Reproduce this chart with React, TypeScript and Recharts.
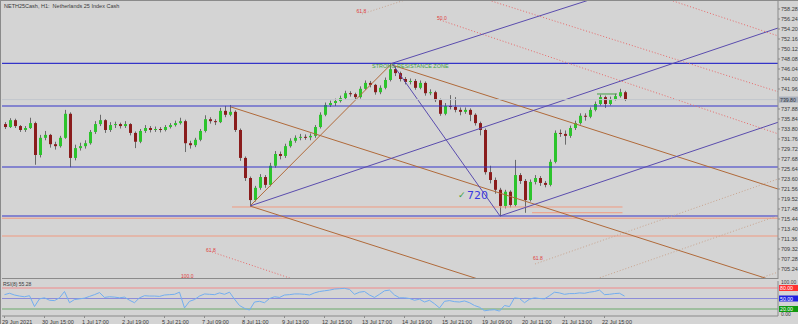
import {
  Bar,
  ComposedChart,
  Line,
  LineChart,
  ReferenceDot,
  ReferenceLine,
  XAxis,
  YAxis,
} from 'recharts'

const TITLE = 'NETH25Cash, H1:  Netherlands 25 Index Cash'
const RSI_TITLE = 'RSI(8) 55.28'

// hourly bars, sampled two hours per candle
const FIRST_OPEN = 734.8
const closes = [
  734.2, 735.6, 734.4, 733.6, 734.0, 735.0, 728.5, 732.0, 732.6, 730.7,
  730.3, 732.0, 736.9, 727.9, 729.9, 730.3, 730.9, 733.2, 734.8, 735.6,
  733.6, 734.6, 734.8, 734.4, 734.8, 733.0, 731.2, 733.4, 734.0, 733.6,
  733.8, 733.6, 734.2, 734.6, 735.0, 735.4, 730.9, 730.5, 731.6, 733.4,
  735.8, 735.4, 735.2, 737.5, 736.7, 737.3, 733.6, 727.9, 723.8, 719.3,
  721.8, 724.0, 722.4, 726.3, 728.7, 728.3, 730.3, 731.4, 732.0, 732.2,
  732.1, 732.4, 734.2, 736.7, 738.7, 739.1, 739.5, 740.1, 741.1, 740.9,
  740.3, 742.0, 743.2, 742.8, 741.3, 742.2, 743.8, 746.0, 745.2, 744.0,
  743.4, 743.6, 742.2, 743.2, 741.1, 741.3, 739.7, 736.9, 738.5, 738.3,
  737.7, 737.3, 737.7, 736.7, 735.0, 733.6, 725.0, 723.4, 721.4, 718.1,
  721.0, 718.3, 724.4, 723.2, 719.3, 723.0, 723.8, 722.8, 722.4, 727.1,
  733.0, 732.8, 732.4, 734.0, 735.0, 736.5, 736.3, 737.7, 738.9, 740.3,
  738.9, 739.9, 740.5, 741.3, 739.8,
]
const highs = [
  735.2, 736.0, 735.9, 734.6, 734.4, 736.1, 735.3, 732.6, 733.4, 732.8,
  731.2, 732.4, 737.7, 737.2, 730.6, 731.0, 731.5, 733.6, 735.4, 736.7,
  735.8, 735.2, 735.3, 735.1, 735.4, 735.0, 733.3, 733.8, 734.6, 734.4,
  734.3, 734.2, 734.6, 735.0, 735.5, 736.1, 735.7, 731.4, 732.0, 733.8,
  736.6, 736.2, 735.8, 738.1, 738.5, 738.7, 737.6, 733.9, 728.2, 724.1,
  722.2, 724.6, 724.4, 726.9, 729.3, 729.2, 730.8, 731.9, 732.5, 732.8,
  732.7, 732.9, 734.6, 737.2, 739.2, 739.6, 740.0, 740.6, 741.6, 741.5,
  741.2, 742.5, 743.7, 743.6, 743.0, 742.7, 744.3, 747.2, 746.6, 745.5,
  744.4, 744.1, 744.0, 743.7, 743.5, 741.9, 741.6, 740.0, 739.1, 740.7,
  740.3, 738.2, 738.2, 738.0, 737.0, 735.3, 733.9, 726.3, 723.9, 721.8,
  721.4, 721.3, 727.5, 724.8, 723.6, 723.5, 724.4, 724.2, 723.2, 727.6,
  733.5, 733.7, 733.5, 734.5, 735.5, 737.0, 737.0, 738.2, 739.4, 740.8,
  740.6, 740.4, 741.0, 742.0, 741.6,
]
const lows = [
  733.8, 734.0, 734.0, 733.2, 733.2, 733.8, 726.5, 728.0, 731.5, 730.0,
  729.6, 730.0, 731.8, 726.0, 727.4, 729.4, 729.8, 730.6, 732.8, 734.4,
  733.0, 733.2, 734.0, 733.9, 734.0, 732.5, 729.9, 730.9, 733.0, 733.1,
  733.2, 733.1, 733.3, 733.9, 734.3, 734.7, 729.1, 729.8, 730.1, 731.3,
  733.1, 734.9, 734.6, 735.0, 736.2, 736.4, 733.2, 727.3, 723.2, 718.1,
  719.0, 721.4, 721.8, 722.1, 725.9, 727.6, 727.9, 730.0, 731.0, 731.5,
  731.6, 731.5, 732.0, 733.9, 736.4, 738.3, 738.5, 739.2, 739.8, 740.4,
  739.7, 740.0, 741.8, 742.3, 740.8, 740.9, 741.9, 743.5, 744.6, 743.5,
  742.9, 742.9, 741.8, 741.9, 740.6, 740.7, 739.3, 736.5, 736.6, 737.8,
  737.2, 736.6, 736.9, 735.4, 734.5, 732.5, 724.5, 722.7, 720.6, 716.0,
  717.6, 717.8, 718.0, 722.6, 716.7, 719.0, 722.5, 722.2, 721.9, 722.1,
  726.8, 732.2, 730.6, 732.0, 733.6, 734.7, 735.5, 736.0, 737.4, 738.6,
  738.1, 738.6, 739.6, 740.2, 739.5,
]
const rsi8 = [
  61, 65, 60, 57, 55, 58, 27, 49, 52, 45,
  44, 52, 70, 38, 47, 49, 51, 56, 61, 67,
  53, 55, 54, 52, 54, 45, 38, 52, 58, 57,
  57, 56, 60, 61, 62, 68, 23, 42, 47, 57,
  63, 62, 61, 66, 62, 68, 48, 30, 22, 17,
  40, 42, 38, 50, 55, 53, 60, 61, 63, 63,
  62, 60, 66, 70, 72, 74, 77, 78, 79, 76,
  62, 68, 70, 60, 53, 62, 72, 74, 60, 52,
  52, 50, 45, 48, 40, 45, 35, 23, 42, 44,
  41, 40, 43, 38, 30, 25, 15, 17, 18, 14,
  30, 27, 52, 50, 38, 48, 52, 50, 49, 58,
  68, 66, 62, 64, 64, 66, 65, 68, 70, 74,
  61, 62, 64, 65, 57,
]

const timeTickBars = [0, 8, 16, 24, 32, 40, 48, 56, 64, 72, 80, 88, 96, 104, 112, 120]
const timeTickLabels = [
  '29 Jun 2021', '30 Jun 15:00', '1 Jul 17:00', '2 Jul 19:00',
  '5 Jul 21:00', '7 Jul 09:00', '8 Jul 11:00', '9 Jul 13:00',
  '12 Jul 15:00', '13 Jul 17:00', '14 Jul 19:00', '15 Jul 21:00',
  '19 Jul 09:00', '20 Jul 11:00', '21 Jul 13:00', '22 Jul 15:00',
]
const priceTicks = [
  758.28, 756.24, 754.2, 752.16, 750.12, 748.08, 746.04, 744.0, 741.96,
  737.88, 735.84, 733.8, 731.76, 729.72, 727.68, 725.64, 723.6, 721.56,
  719.52, 717.48, 715.44, 713.4, 711.36, 709.32, 707.28, 705.24,
]
const rsiTicks = [0, 100]
const PRICE_DOMAIN = [703.2, 759.91]
const BAR_DOMAIN = [-0.5, 154.7]

// drawings, in [bar, price]
type Seg = { a: [number, number]; b: [number, number] }
const blueLevels = [747.2, 738.49, 726.05, 716.05]
const salmonLevels = [715.6, 711.97]
const salmonSegments: Seg[] = [
  { a: [45.5, 717.89], b: [123.6, 717.89] },
  { a: [105.5, 716.72], b: [123.6, 716.72] },
]
const greenSegments: Seg[] = [{ a: [118.5, 740.94], b: [122.5, 740.94] }]
const channelBrown: Seg[] = [
  { a: [45.3, 738.29], b: [160, 700.82] },
  { a: [77.5, 746.86], b: [160, 719.82] },
  { a: [49.1, 718.09], b: [110, 698.2] },
  { a: [49.1, 718.09], b: [77.5, 747.2] },
]
const channelPurple: Seg[] = [
  { a: [49.1, 718.09], b: [160, 756.22] },
  { a: [77.5, 747.2], b: [125, 762.76] },
  { a: [77.5, 747.2], b: [99.1, 716.05] },
  { a: [99.1, 716.05], b: [160, 736.99] },
]
const fibRed: Seg[] = [
  { a: [128, 761.85], b: [160, 751.0] },
  { a: [94, 761.0], b: [160, 739.7] },
  { a: [87.1, 756.04], b: [160, 731.0] },
  { a: [41.5, 708.71], b: [62, 701.7] },
]
const fibTan: Seg[] = [
  { a: [106.1, 706.26], b: [160, 725.5] },
  { a: [110, 700.25], b: [160, 718.0] },
  { a: [145, 701.3], b: [160, 706.4] },
  { a: [71.5, 757.26], b: [84, 761.4] },
]
const fibLabels = [
  { text: '61.8', bar: 70.4, price: 757.87 },
  { text: '50.0', bar: 86.5, price: 756.44 },
  { text: '61.8', bar: 40.3, price: 709.1 },
  { text: '100.0', bar: 35.3, price: 703.9 },
  { text: '61.8', bar: 105.7, price: 707.5 },
]
const ZONE_TEXT = 'STRONG RESISTANCE ZONE'
const ZONE_AT = { bar: 73.5, price: 746.6 }
const TARGET_TEXT = '720'
const TARGET_AT = { bar: 90.7, price: 720.3 }
const rsiLevels = [80, 50, 20]

const COLORS = {
  bg: '#d4d4d4',
  text: '#3a3a3a',
  axis: '#8a8a8a',
  up: '#2cc42c',
  down: '#8a1c1c',
  wick: '#6a6a6a',
  blue: '#3434c8',
  purple: '#5a4cae',
  brown: '#b06a3a',
  salmon: '#f09a80',
  red: '#e86a6a',
  tan: '#c9a48e',
  green: '#42a042',
  rsi: '#72aef0',
}
const rsiLevelColors = ['#ff3030', '#2020e0', '#109a10']
const rsiLineColors = ['#f08a8a', '#8c8cd8', '#6aa86a']

const candles = closes.map((c, i) => ({
  i,
  open: i === 0 ? FIRST_OPEN : closes[i - 1],
  close: c,
  high: highs[i],
  low: lows[i],
  rsi: rsi8[i],
}))
const last = candles[candles.length - 1]

function Candle(props: any) {
  const { x, y, width, height, payload } = props
  const { open, close, high, low } = payload
  const cx = Math.round(x + width / 2) + 0.5
  const k = high > low ? height / (high - low) : 0
  const top = y + (high - Math.max(open, close)) * k
  const bot = y + (high - Math.min(open, close)) * k
  return (
    <g>
      <line x1={cx} x2={cx} y1={y} y2={y + height} stroke={COLORS.wick} />
      <rect
        x={cx - 1.5}
        y={top}
        width={3}
        height={Math.max(1, bot - top)}
        fill={close >= open ? COLORS.up : COLORS.down}
      />
    </g>
  )
}

function AxisTag(props: any) {
  const { viewBox, text, fill, color } = props
  const left = viewBox.x + viewBox.width + 1
  return (
    <g>
      <rect x={left} y={viewBox.y - 3} width={19} height={6} fill={fill} />
      <text
        x={left + 1}
        y={viewBox.y}
        dominantBaseline="central"
        fontSize={5.2}
        fill={color}
      >
        {text}
      </text>
    </g>
  )
}

function TimeTick({ x, y, payload }: any) {
  const k = timeTickBars.indexOf(payload.value)
  return (
    <text x={x - 2.5} y={y + 4} fontSize={5.5} fill={COLORS.text}>
      {timeTickLabels[k]}
    </text>
  )
}

// keeps the 100.00 / 0.00 labels inside the subwindow
function RsiTick({ x, y, payload }: any) {
  const shift = payload.value === 100 ? 1 : -2
  return (
    <text
      x={x + 1}
      y={y + shift}
      fontSize={5}
      fill={COLORS.text}
      dominantBaseline="central"
    >
      {Number(payload.value).toFixed(2)}
    </text>
  )
}

function segLines(list: Seg[], stroke: string, dash?: string) {
  return list.map((s, n) => (
    <ReferenceLine
      key={`${stroke}-${n}`}
      segment={[
        { x: s.a[0], y: s.a[1] },
        { x: s.b[0], y: s.b[1] },
      ]}
      stroke={stroke}
      strokeWidth={1}
      strokeDasharray={dash}
      ifOverflow="hidden"
    />
  ))
}

export default function App() {
  return (
    <div
      style={{
        position: 'absolute',
        left: 0,
        top: 0,
        width: 798,
        height: 324,
        background: COLORS.bg,
        overflow: 'hidden',
        boxShadow: `inset 1px 1px 0 ${COLORS.axis}`,
        fontFamily: '"Liberation Sans", Arial, sans-serif',
      }}
    >
      <div style={{ position: 'absolute', left: 0, top: 0 }}>
        <ComposedChart
          width={798}
          height={279}
          data={candles}
          margin={{ top: 1, right: 0, bottom: 0, left: 2 }}
        >
          <XAxis
            type="number"
            dataKey="i"
            domain={BAR_DOMAIN}
            allowDataOverflow
            hide
          />
          <YAxis
            orientation="right"
            width={20}
            domain={PRICE_DOMAIN}
            allowDataOverflow
            ticks={priceTicks}
            interval={0}
            tickSize={2}
            tickMargin={1}
            tick={{ fontSize: 5.5, fill: COLORS.text }}
            tickFormatter={(v: number) => v.toFixed(2)}
            axisLine={{ stroke: COLORS.axis }}
            tickLine={{ stroke: COLORS.axis }}
          />
          {salmonLevels.map((p) => (
            <ReferenceLine key={`s${p}`} y={p} stroke={COLORS.salmon} />
          ))}
          {segLines(salmonSegments, COLORS.salmon)}
          {blueLevels.map((p) => (
            <ReferenceLine key={`b${p}`} y={p} stroke={COLORS.blue} strokeWidth={1.2} />
          ))}
          {segLines(fibRed, COLORS.red, '1 2')}
          {segLines(fibTan, COLORS.tan, '1 2')}
          {segLines(channelBrown, COLORS.brown)}
          {segLines(channelPurple, COLORS.purple)}
          {segLines(greenSegments, COLORS.green)}
          <ReferenceLine
            y={last.close}
            stroke="#c2c6cc"
            label={(p: any) => (
              <AxisTag {...p} text={last.close.toFixed(2)} fill="#a7aebb" color="#30343c" />
            )}
          />
          <Bar
            dataKey={(d: any) => [d.low, d.high]}
            barSize={3}
            shape={<Candle />}
            isAnimationActive={false}
          />
          {fibLabels.map((l, n) => (
            <ReferenceDot
              key={`f${n}`}
              x={l.bar}
              y={l.price}
              r={0}
              ifOverflow="visible"
              shape={(s: any) => (
                <text x={s.cx} y={s.cy} fontSize={5} fill="#e03c3c" dominantBaseline="central">
                  {l.text}
                </text>
              )}
            />
          ))}
          <ReferenceDot
            x={ZONE_AT.bar}
            y={ZONE_AT.price}
            r={0}
            shape={(s: any) => (
              <text x={s.cx} y={s.cy} fontSize={5.5} fill={COLORS.green} dominantBaseline="central">
                {ZONE_TEXT}
              </text>
            )}
          />
          <ReferenceDot
            x={TARGET_AT.bar}
            y={TARGET_AT.price}
            r={0}
            shape={(s: any) => (
              <g>
                <text x={s.cx} y={s.cy} fontSize={9} fill={COLORS.green} dominantBaseline="central">
                  ✓
                </text>
                <text
                  x={s.cx + 9}
                  y={s.cy}
                  fontSize={11}
                  fill="#3a3ae0"
                  dominantBaseline="central"
                  fontFamily='"DejaVu Sans", sans-serif'
                >
                  {TARGET_TEXT}
                </text>
              </g>
            )}
          />
          <ReferenceLine y={PRICE_DOMAIN[0]} stroke={COLORS.axis} strokeWidth={2} />
        </ComposedChart>
      </div>

      <div style={{ position: 'absolute', left: 0, top: 279 }}>
        <LineChart
          width={798}
          height={45}
          data={candles}
          margin={{ top: 2, right: 0, bottom: 0, left: 2 }}
        >
          <XAxis
            type="number"
            dataKey="i"
            domain={BAR_DOMAIN}
            allowDataOverflow
            ticks={timeTickBars}
            interval={0}
            height={8}
            tickSize={2}
            tick={<TimeTick />}
            axisLine={{ stroke: COLORS.axis }}
            tickLine={{ stroke: COLORS.axis }}
          />
          <YAxis
            orientation="right"
            width={20}
            domain={[0, 100]}
            ticks={rsiTicks}
            interval={0}
            tickSize={2}
            tickMargin={0}
            tick={<RsiTick />}
            axisLine={{ stroke: COLORS.axis }}
            tickLine={false}
          />
          {rsiLevels.map((lv, n) => (
            <ReferenceLine
              key={`r${lv}`}
              y={lv}
              stroke={rsiLineColors[n]}
              label={(p: any) => (
                <AxisTag {...p} text={lv.toFixed(2)} fill={rsiLevelColors[n]} color="#ffffff" />
              )}
            />
          ))}
          <Line
            type="linear"
            dataKey="rsi"
            stroke={COLORS.rsi}
            strokeWidth={1}
            dot={false}
            isAnimationActive={false}
          />
        </LineChart>
      </div>

      <div
        style={{
          position: 'absolute',
          left: 4,
          top: 3,
          fontSize: 5.5,
          color: COLORS.text,
          whiteSpace: 'pre',
        }}
      >
        {TITLE}
      </div>
      <div
        style={{
          position: 'absolute',
          left: 3,
          top: 281,
          fontSize: 5,
          color: COLORS.text,
        }}
      >
        {RSI_TITLE}
      </div>
    </div>
  )
}
